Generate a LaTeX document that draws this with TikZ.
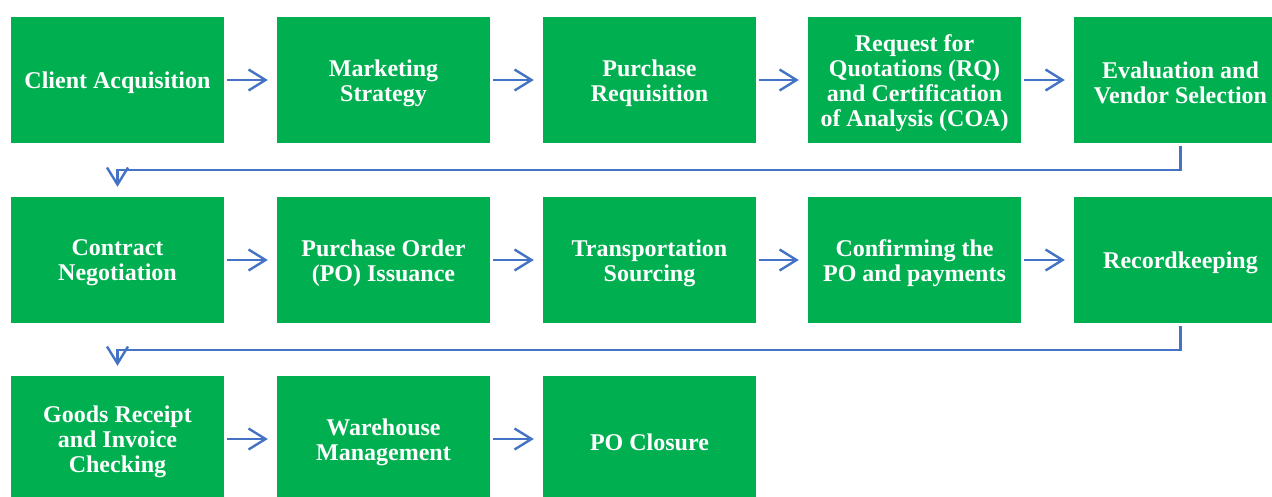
\documentclass[tikz,border=0pt]{standalone}
\usepackage{fontspec}
\setmainfont{Liberation Serif}
\usetikzlibrary{arrows.meta}
\definecolor{boxgreen}{HTML}{00B050}
\definecolor{arrowblue}{HTML}{4472C4}
\newcommand{\procstep}[3]{%
  \node[procbox] (#1) at (#2) {};
  \node[proctext] (#1t) at ([yshift=-3pt]#1.center) {#3};}
\begin{document}
\begin{tikzpicture}[x=1pt,y=-1pt,
  procbox/.style={fill=boxgreen, draw=none, minimum width=213pt, minimum height=126pt, inner sep=0pt},
  proctext/.style={text=white, align=center, inner sep=0pt, font=\fontsize{24pt}{25pt}\selectfont\bfseries},
  flow/.style={draw=arrowblue, line width=2.4pt, -{Straight Barb[length=17pt,width=21pt,line width=2.4pt]}}
]
\useasboundingbox (0,0) rectangle (1272,496);
\clip (0,0) rectangle (1272,496);
% row 1
\procstep{b1}{117.5,80}{Client Acquisition}
\procstep{b2}{383.5,80}{Marketing\\Strategy}
\procstep{b3}{649.5,80}{Purchase\\Requisition}
\procstep{b4}{914.5,80}{Request for\\Quotations (RQ)\\and Certification\\of Analysis (COA)}
\procstep{b5}{1180.5,80}{Evaluation and\\Vendor Selection}
% row 2
\procstep{b6}{117.5,260}{Contract\\Negotiation}
\procstep{b7}{383.5,260}{Purchase Order\\(PO) Issuance}
\procstep{b8}{649.5,260}{Transportation\\Sourcing}
\procstep{b9}{914.5,260}{Confirming the\\PO and payments}
\procstep{b10}{1180.5,260}{Recordkeeping}
% row 3
\procstep{b11}{117.5,439}{Goods Receipt\\and Invoice\\Checking}
\procstep{b12}{383.5,439}{Warehouse\\Management}
\procstep{b13}{649.5,439}{PO Closure}
% horizontal arrows
\foreach \a/\b in {b1/b2,b2/b3,b3/b4,b4/b5,b6/b7,b7/b8,b8/b9,b9/b10,b11/b12,b12/b13}
  \draw[flow, shorten <=3pt, shorten >=9pt] (\a) -- (\b);
% row connectors
\draw[flow, shorten <=3pt, shorten >=10pt] (b5.south) -- ++(0,27) -| (b6.north);
\draw[flow, shorten <=3pt, shorten >=10pt] (b10.south) -- ++(0,27) -| (b11.north);
\end{tikzpicture}
\end{document}
